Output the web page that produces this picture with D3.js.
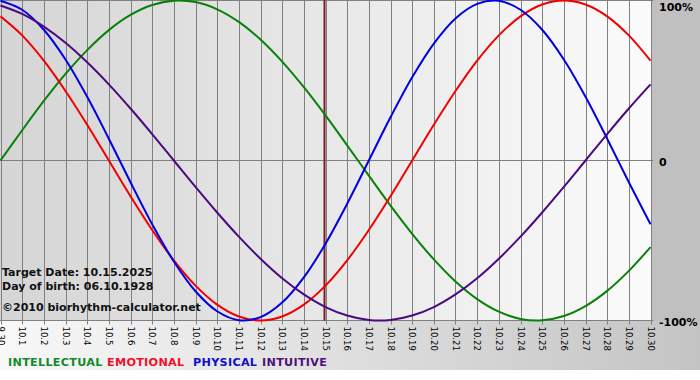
<!DOCTYPE html>
<html><head><meta charset="utf-8">
<script src="https://cdn.jsdelivr.net/npm/d3@7"></script>
<style>html,body{margin:0;padding:0;background:#fff;}svg{display:block;}</style>
</head><body>
<svg id="c" width="700" height="380"></svg>
<script>
const days = ["9.30","10.1","10.2","10.3","10.4","10.5","10.6","10.7","10.8","10.9","10.10","10.11","10.12","10.13","10.14","10.15","10.16","10.17","10.18","10.19","10.20","10.21","10.22","10.23","10.24","10.25","10.26","10.27","10.28","10.29","10.30"];
const intellectual = [0,0.189,0.372,0.541,0.690,0.815,0.910,0.972,0.999,0.990,0.945,0.866,0.756,0.618,0.458,0.282,0.095,-0.095,-0.282,-0.458,-0.618,-0.756,-0.866,-0.945,-0.990,-0.999,-0.972,-0.910,-0.815,-0.690,-0.541];
const emotional = [0.901,0.782,0.624,0.434,0.223,0,-0.223,-0.434,-0.624,-0.782,-0.901,-0.975,-1,-0.975,-0.901,-0.782,-0.624,-0.434,-0.223,0,0.223,0.434,0.624,0.782,0.901,0.975,1,0.975,0.901,0.782,0.624];
const physical = [0.998,0.942,0.817,0.631,0.398,0.136,-0.136,-0.398,-0.631,-0.817,-0.942,-0.998,-0.979,-0.888,-0.731,-0.520,-0.270,0,0.270,0.520,0.731,0.888,0.979,0.998,0.942,0.817,0.631,0.398,0.136,-0.136,-0.398];
const intuitive = [0.969,0.916,0.837,0.736,0.614,0.476,0.325,0.165,0,-0.165,-0.325,-0.476,-0.614,-0.736,-0.837,-0.916,-0.969,-0.997,-0.997,-0.969,-0.916,-0.837,-0.736,-0.614,-0.476,-0.325,-0.165,0,0.165,0.325,0.476];
const yTickValues = [1,0,-1];
const yTickLabels = ["100%","0","-100%"];
const targetIndex = 15;
const infoLines = ["Target Date: 10.15.2025","Day of birth: 06.10.1928","\u00a92010 biorhythm-calculator.net"];
const legendNames = ["INTELLECTUAL","EMOTIONAL","PHYSICAL","INTUITIVE"];

const colors = {INTELLECTUAL:"#0a800a", EMOTIONAL:"#f00000", PHYSICAL:"#0000e0", INTUITIVE:"#4b0a82"};
const legendColors = {INTELLECTUAL:"#118a2a", EMOTIONAL:"#f0102a", PHYSICAL:"#1010c8", INTUITIVE:"#50107a"};
const series = [
  {name:"INTELLECTUAL", values:intellectual},
  {name:"EMOTIONAL", values:emotional},
  {name:"PHYSICAL", values:physical},
  {name:"INTUITIVE", values:intuitive}
];

const svg = d3.select("#c");
const W = 700, H = 380;
const plotL = 0, plotR = 650.5, plotT = 0.5, plotB = 320.5;
const x = d3.scaleLinear().domain([0, days.length-1]).range([plotL+0.5, plotR]);
const y = d3.scaleLinear().domain([-1,1]).range([plotB, plotT]);

const defs = svg.append("defs");
const g1 = defs.append("linearGradient").attr("id","plotGrad").attr("x1","0").attr("x2","1").attr("y1","0").attr("y2","0");
g1.append("stop").attr("offset","0").attr("stop-color","#d5d5d5");
g1.append("stop").attr("offset","1").attr("stop-color","#fbfbfb");
const g2 = defs.append("linearGradient").attr("id","botGrad").attr("x1","0").attr("x2","1").attr("y1","0").attr("y2","0");
g2.append("stop").attr("offset","0").attr("stop-color","#f8f8f8");
g2.append("stop").attr("offset","1").attr("stop-color","#c4c4c4");

svg.append("rect").attr("x",0).attr("y",0).attr("width",W).attr("height",H).attr("fill","#fff");
svg.append("rect").attr("x",0).attr("y",320).attr("width",W).attr("height",50).attr("fill","url(#botGrad)");
svg.append("rect").attr("x",650).attr("y",0).attr("width",50).attr("height",321).attr("fill","#c0c0c0");
svg.append("rect").attr("x",0).attr("y",0).attr("width",651).attr("height",321).attr("fill","url(#plotGrad)");

// vertical grid
svg.append("g").selectAll("line").data(days).join("line")
  .attr("x1",(d,i)=>Math.round(x(i))+0.5).attr("x2",(d,i)=>Math.round(x(i))+0.5)
  .attr("y1",plotT).attr("y2",plotB+4)
  .attr("stroke","#808080").attr("stroke-width",1);
// horizontal lines
svg.append("g").selectAll("line").data(yTickValues).join("line")
  .attr("x1",0).attr("x2",plotR+3)
  .attr("y1",d=>Math.round(y(d)-0.5)+0.5).attr("y2",d=>Math.round(y(d)-0.5)+0.5)
  .attr("stroke","#808080").attr("stroke-width",1);

// x labels
svg.append("g").selectAll("text").data(days).join("text")
  .attr("transform",(d,i)=>`translate(${x(i)-3},${plotB+6}) rotate(90)`)
  .attr("font-family","DejaVu Sans, Verdana, sans-serif").attr("font-size",8.5)
  .attr("fill","#000")
  .text(d=>d);

// y labels
svg.append("g").selectAll("text").data(yTickValues).join("text")
  .attr("x",(d,i)=>i===0?659:659)
  .attr("y",d=>d===1?11:y(d)+5)
  .attr("font-family","DejaVu Sans, Verdana, sans-serif").attr("font-size",11).attr("font-weight","bold")
  .attr("fill","#000")
  .text((d,i)=>yTickLabels[i]);

// target line
svg.append("line").attr("x1",x(targetIndex)-1).attr("x2",x(targetIndex)-1).attr("y1",0).attr("y2",plotB)
  .attr("stroke","#7a1c24").attr("stroke-width",2);

// curves
const line = d3.line().x((d,i)=>x(i)).y(d=>y(d)).curve(d3.curveCatmullRom);
svg.append("g").selectAll("path").data(series).join("path")
  .attr("d",s=>line(s.values)).attr("fill","none")
  .attr("stroke",s=>colors[s.name]).attr("stroke-width",2);

// info text
svg.append("g").selectAll("text").data(infoLines).join("text")
  .attr("x",2).attr("y",(d,i)=>[276,290,311][i])
  .attr("font-family","DejaVu Sans, Verdana, sans-serif").attr("font-size",11).attr("font-weight","bold")
  .attr("fill","#111")
  .text(d=>d);

// legend
const legX = [8,107,193,262];
svg.append("g").selectAll("text").data(legendNames).join("text")
  .attr("x",(d,i)=>legX[i]).attr("y",366)
  .attr("font-family","DejaVu Sans, Verdana, sans-serif").attr("font-size",11.2).attr("font-weight","bold")
  .attr("letter-spacing",0.3)
  .attr("fill",d=>legendColors[d])
  .text(d=>d);
</script>
</body></html>
